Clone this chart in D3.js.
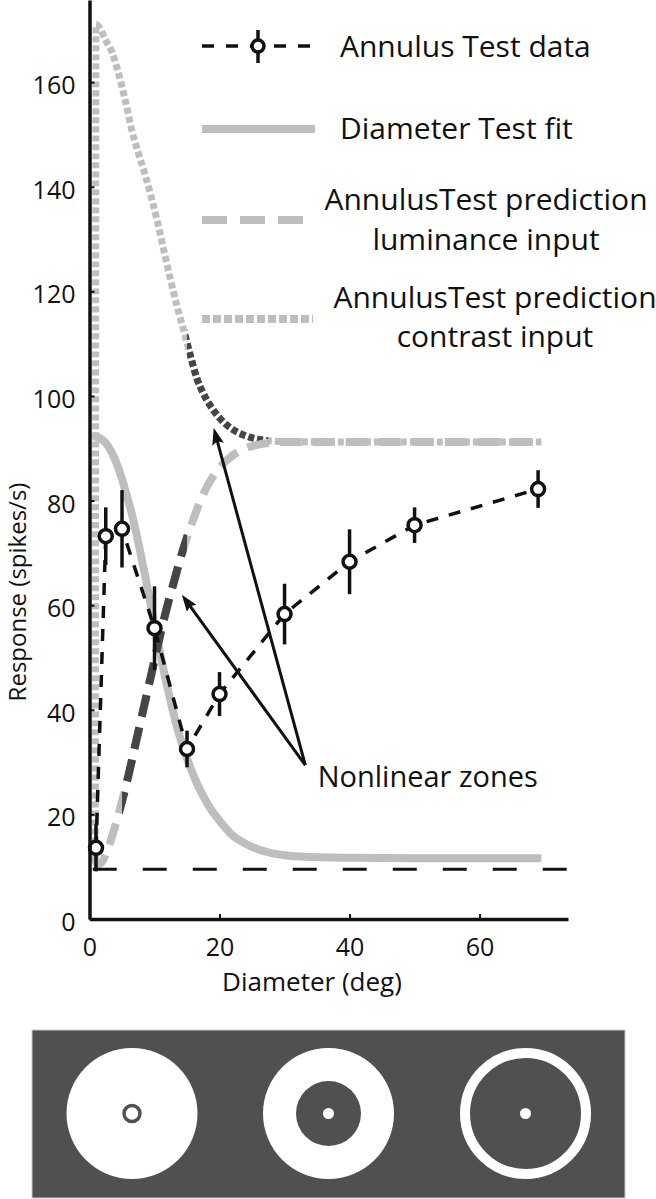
<!DOCTYPE html>
<html>
<head>
<meta charset="utf-8">
<script src="https://cdn.jsdelivr.net/npm/d3@7"></script>
<style>
  html, body { margin: 0; padding: 0; background: #fff; }
  svg { display: block; font-family: "Open Sans", sans-serif; }
</style>
</head>
<body>
<div id="chart"></div>
<script>
// Annulus Test data: diameter (deg), response (spikes/s), error bar half-height
const dataDiam = [1, 2.5, 5, 10, 15, 20, 30, 40, 50, 69];
const dataResp = [13.6, 73.2, 74.6, 55.6, 32.5, 43, 58.3, 68.3, 75.3, 82.2];
const dataErr = [4.5, 5.5, 7.4, 8, 3.5, 4.2, 5.8, 6.2, 3.4, 3.6];

// spontaneous rate (horizontal dashed line)
const baselineRate = 9.5;

// Diameter Test fit
const fitDiam = [0.5, 1.5, 2.5, 3.5, 4.5, 5.5, 6.5, 7.5, 8.5, 9.5, 10.5, 11.5, 12.5, 13.5, 14.5, 15.5,
  16.5, 17.5, 18.5, 20, 22, 24, 26, 28, 30, 33, 40, 50, 60, 69.5];
const fitResp = [92.3, 92, 91, 89, 86, 82, 77.5, 72, 66, 59.5, 53, 47, 41.5, 36.5, 32.5, 29,
  26, 23.5, 21.3, 18.8, 16, 14.4, 13.3, 12.6, 12.2, 11.9, 11.7, 11.6, 11.6, 11.6];

// AnnulusTest prediction, luminance input
const lumDiam = [0.5, 1.5, 3, 4, 5, 6, 7, 8, 9, 10, 11, 12, 13, 14, 15, 16, 17, 18, 19, 20,
  22, 24, 26, 28, 30, 40, 50, 60, 69.5];
const lumResp = [12, 10.5, 14, 18, 22.5, 27.5, 33, 38.5, 44, 49.5, 55, 60, 64.5, 69, 73, 76.5, 79.8, 82.5, 84.6, 86.3,
  88.6, 90, 90.7, 91.1, 91.2, 91.2, 91.2, 91.2, 91.2];

// AnnulusTest prediction, contrast input
const conDiam = [0.9, 1.0, 1.5, 2.5, 3.5, 4.5, 5.5, 6.5, 7.5, 8.5, 9.5, 10.5, 11.5, 12.5, 13.5, 14.5,
  15.5, 16.5, 17.5, 18.5, 20, 22, 24, 26, 28, 30, 40, 50, 60, 69.5];
const conResp = [11, 171, 170.5, 168, 165.6, 161.5, 156.5, 150.8, 146.5, 142.5, 138, 133, 127.5, 122, 117, 112.5,
  107.8, 103.4, 100.5, 98.3, 95.8, 93.6, 92.4, 91.7, 91.4, 91.3, 91.2, 91.2, 91.2, 91.2];

// nonlinear zones (diameter ranges drawn dark)
const lumZone = [5, 15];
const conZone = [15, 27.5];

const xTicks = [0, 20, 40, 60];
const yTicks = [0, 20, 40, 60, 80, 100, 120, 140, 160];

const legendLabels = [
  ['Annulus Test data'],
  ['Diameter Test fit'],
  ['AnnulusTest prediction', 'luminance input'],
  ['AnnulusTest prediction', 'contrast input']
];

// annotation: arrows from one point to the two zones
const arrowFrom = [33.2, 29.4];
const arrowTips = [[14.2, 62], [19.1, 93.9]];
const noteText = 'Nonlinear zones';
const notePos = [35.1, 25.2];

//----------------- setup -----------------
const W = 656, H = 1199;
const LIGHT = '#bebebe', DARK = '#454545';

const x = d3.scaleLinear().domain([0, 73.6]).range([89.5, 568]);
const y = d3.scaleLinear().domain([0, 175.7]).range([919, 0]);

const svg = d3.select('#chart').append('svg')
  .attr('width', W).attr('height', H);

const defs = svg.append('defs');
defs.append('clipPath').attr('id', 'lumClip').append('rect')
  .attr('x', x(lumZone[0])).attr('y', 0)
  .attr('width', x(lumZone[1]) - x(lumZone[0])).attr('height', y(0));
defs.append('clipPath').attr('id', 'conClip').append('rect')
  .attr('x', x(conZone[0])).attr('y', 0)
  .attr('width', x(conZone[1]) - x(conZone[0])).attr('height', y(0));
defs.append('marker')
  .attr('id', 'head')
  .attr('markerUnits', 'userSpaceOnUse')
  .attr('markerWidth', 18).attr('markerHeight', 12)
  .attr('refX', 6).attr('refY', 6)
  .attr('orient', 'auto')
  .append('path')
  .attr('d', 'M0,0L17,6L0,12L3,6Z')
  .attr('fill', '#111');

const curve = d3.line().x((d) => x(d[0])).y((d) => y(d[1])).curve(d3.curveMonotoneX);
const straight = d3.line().x((d) => x(d[0])).y((d) => y(d[1]));

const zip = (a, b) => a.map((v, i) => [v, b[i]]);

const plot = svg.append('g');

// Diameter Test fit
plot.append('path')
  .attr('d', curve(zip(fitDiam, fitResp)))
  .attr('fill', 'none').attr('stroke', LIGHT).attr('stroke-width', 8);

// contrast prediction (dotted) + dark zone
const conPath = curve(zip(conDiam, conResp));
plot.append('path')
  .attr('d', conPath)
  .attr('fill', 'none').attr('stroke', LIGHT).attr('stroke-width', 7)
  .attr('stroke-dasharray', '6,3');
plot.append('path')
  .attr('d', conPath)
  .attr('clip-path', 'url(#conClip)')
  .attr('fill', 'none').attr('stroke', DARK).attr('stroke-width', 7)
  .attr('stroke-dasharray', '6,3');

// luminance prediction (dashed) + dark zone
const lumPath = curve(zip(lumDiam, lumResp));
plot.append('path')
  .attr('d', lumPath)
  .attr('fill', 'none').attr('stroke', LIGHT).attr('stroke-width', 8)
  .attr('stroke-dasharray', '22,11');
plot.append('path')
  .attr('d', lumPath)
  .attr('clip-path', 'url(#lumClip)')
  .attr('fill', 'none').attr('stroke', DARK).attr('stroke-width', 8)
  .attr('stroke-dasharray', '22,11');

// spontaneous baseline
plot.append('line')
  .attr('x1', x(0.5)).attr('x2', x(73.6))
  .attr('y1', y(baselineRate)).attr('y2', y(baselineRate))
  .attr('stroke', '#111').attr('stroke-width', 3)
  .attr('stroke-dasharray', '24,26');

// data line
const pts = zip(dataDiam, dataResp);
plot.append('path')
  .attr('d', straight(pts))
  .attr('fill', 'none').attr('stroke', '#111').attr('stroke-width', 3.5)
  .attr('stroke-dasharray', '12,11');

// error bars
plot.selectAll('.err')
  .data(dataDiam)
  .enter()
  .append('line')
  .attr('class', 'err')
  .attr('x1', (d) => x(d)).attr('x2', (d) => x(d))
  .attr('y1', (d, i) => y(dataResp[i] - dataErr[i]))
  .attr('y2', (d, i) => y(dataResp[i] + dataErr[i]))
  .attr('stroke', '#111').attr('stroke-width', 3.5);

plot.selectAll('.pt')
  .data(pts)
  .enter()
  .append('circle')
  .attr('class', 'pt')
  .attr('cx', (d) => x(d[0])).attr('cy', (d) => y(d[1]))
  .attr('r', 6.5)
  .attr('fill', '#fff').attr('stroke', '#111').attr('stroke-width', 3.5);

// arrows
arrowTips.forEach((t) => {
  let x0 = x(arrowFrom[0]), y0 = y(arrowFrom[1]);
  let x1 = x(t[0]), y1 = y(t[1]);
  let len = Math.hypot(x1 - x0, y1 - y0);
  // pull the line back so the marker tip sits on the target
  let k = (len - 11) / len;
  plot.append('line')
    .attr('x1', x0).attr('y1', y0)
    .attr('x2', x0 + (x1 - x0) * k).attr('y2', y0 + (y1 - y0) * k)
    .attr('stroke', '#111').attr('stroke-width', 3)
    .attr('marker-end', 'url(#head)');
});

plot.append('text')
  .attr('x', x(notePos[0])).attr('y', y(notePos[1]))
  .attr('font-size', 29).attr('fill', '#111')
  .text(noteText);

//----------------- axes -----------------
const yAxis = d3.axisLeft(y).tickValues(yTicks)
  .tickSizeInner(-5).tickSizeOuter(0).tickPadding(14);
const xAxis = d3.axisBottom(x).tickValues(xTicks)
  .tickSizeInner(-5).tickSizeOuter(0).tickPadding(19);

const gy = svg.append('g').attr('transform', `translate(${x(0)},0)`).call(yAxis);
const gx = svg.append('g').attr('transform', `translate(0,${y(0)})`).call(xAxis);

[gx, gy].forEach((g) => {
  g.select('.domain').attr('stroke', '#111').attr('stroke-width', 3.5);
  g.selectAll('.tick line').attr('stroke', '#111').attr('stroke-width', 2);
  g.selectAll('.tick text')
    .attr('font-family', '"Open Sans", sans-serif')
    .attr('font-size', 25).attr('fill', '#111');
});
gy.selectAll('.tick text').attr('dy', '0.46em');

svg.append('text')
  .attr('x', 312).attr('y', 991)
  .attr('text-anchor', 'middle')
  .attr('font-size', 26).attr('fill', '#111')
  .text('Diameter (deg)');

svg.append('text')
  .attr('transform', 'translate(26,592) rotate(-90)')
  .attr('text-anchor', 'middle')
  .attr('font-size', 24).attr('fill', '#111')
  .text('Response (spikes/s)');

//----------------- legend -----------------
const leg = svg.append('g');
const lx0 = 202, lx1 = 315;

// row 1: data
leg.append('line')
  .attr('x1', lx0).attr('x2', lx1).attr('y1', 46).attr('y2', 46)
  .attr('stroke', '#111').attr('stroke-width', 3.5).attr('stroke-dasharray', '12,12');
leg.append('line')
  .attr('x1', 258).attr('x2', 258).attr('y1', 30).attr('y2', 63)
  .attr('stroke', '#111').attr('stroke-width', 3.5);
leg.append('circle')
  .attr('cx', 258).attr('cy', 46).attr('r', 6)
  .attr('fill', '#fff').attr('stroke', '#111').attr('stroke-width', 3.5);

// row 2: fit
leg.append('line')
  .attr('x1', lx0).attr('x2', lx1).attr('y1', 129).attr('y2', 129)
  .attr('stroke', LIGHT).attr('stroke-width', 8);

// row 3: luminance
leg.append('line')
  .attr('x1', lx0).attr('x2', 304).attr('y1', 220).attr('y2', 220)
  .attr('stroke', LIGHT).attr('stroke-width', 8).attr('stroke-dasharray', '25,13');

// row 4: contrast
leg.append('line')
  .attr('x1', lx0).attr('x2', 313).attr('y1', 319).attr('y2', 319)
  .attr('stroke', LIGHT).attr('stroke-width', 8).attr('stroke-dasharray', '8,3');

const legText = [
  { x: 340, y: [57], anchor: 'start' },
  { x: 340, y: [139], anchor: 'start' },
  { x: 486, y: [210, 250], anchor: 'middle' },
  { x: 495, y: [308, 347], anchor: 'middle' }
];
legendLabels.forEach((lines, i) => {
  lines.forEach((s, j) => {
    leg.append('text')
      .attr('x', legText[i].x).attr('y', legText[i].y[j])
      .attr('text-anchor', legText[i].anchor)
      .attr('font-size', 30).attr('fill', '#111')
      .text(s);
  });
});

//----------------- stimulus strip -----------------
const strip = svg.append('g');
strip.append('rect')
  .attr('x', 32).attr('y', 1030).attr('width', 593).attr('height', 168)
  .attr('fill', '#505050').attr('stroke', '#c8c8c8').attr('stroke-width', 1);

const cy = 1113.5, R = 65.5;
// 1: full disc with a small dark ring
strip.append('circle').attr('cx', 132).attr('cy', cy).attr('r', R).attr('fill', '#fff');
strip.append('circle').attr('cx', 132).attr('cy', cy).attr('r', 8)
  .attr('fill', '#fff').attr('stroke', '#505050').attr('stroke-width', 3.5);
// 2: thick annulus
strip.append('circle').attr('cx', 328.5).attr('cy', cy).attr('r', R).attr('fill', '#fff');
strip.append('circle').attr('cx', 328.5).attr('cy', cy).attr('r', 32.5).attr('fill', '#505050');
strip.append('circle').attr('cx', 328.5).attr('cy', cy).attr('r', 5.5).attr('fill', '#fff');
// 3: thin annulus
strip.append('circle').attr('cx', 525.5).attr('cy', cy).attr('r', R - 5)
  .attr('fill', 'none').attr('stroke', '#fff').attr('stroke-width', 10);
strip.append('circle').attr('cx', 525.5).attr('cy', cy).attr('r', 5.5).attr('fill', '#fff');
</script>
</body>
</html>
